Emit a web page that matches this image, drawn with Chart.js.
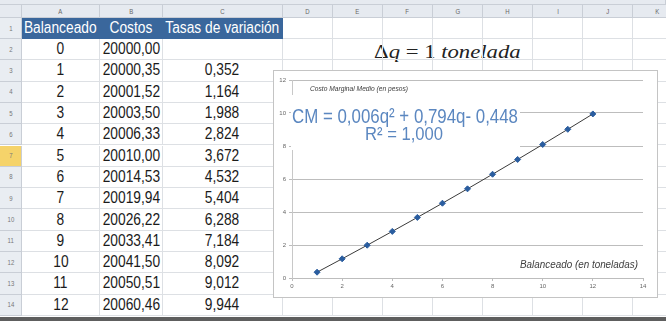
<!DOCTYPE html>
<html>
<head>
<meta charset="utf-8">
<script src="https://cdn.jsdelivr.net/npm/chart.js@4.4.0/dist/chart.umd.min.js"></script>
<style>
body { margin: 0; background: #fff; font-family: Arial, "Liberation Sans", sans-serif; }
#hoja { position: relative; width: 666px; height: 321px; overflow: hidden; background: #fff; }
.c { position: absolute; box-sizing: border-box; border-right: 1px solid #dde0e4; border-bottom: 1px solid #dde0e4;
     display: flex; align-items: center; justify-content: center; white-space: nowrap; overflow: visible; }
.c span { display: inline-block; transform: scaleX(0.86); }
.cab { background: #e6eaf0; color: #666; font-size: 7px; border-color: #c9ced6; }
.num { background: #e9edf2; color: #777; font-size: 7px; border-color: #c9ced6; }
.sel { background: #f5d36a; }
.tit { background: #3a679c; color: #fff; font-size: 16px; border-color: #3a679c; }
.val { color: #1b1b1b; font-size: 16px; }
#graf { position: absolute; left: 273px; top: 70px; width: 385px; height: 228px; box-sizing: border-box;
        border: 1px solid #c4c4c4; background: #fff; }
#delta { position: absolute; left: 367px; top: 41px; width: 160px; height: 22px; background: #fff;
         display: flex; align-items: center; justify-content: center;
         font-family: "Liberation Serif", "DejaVu Serif", serif; font-size: 19px; color: #222; }
#delta span { display: inline-block; white-space: nowrap; }
#pie { position: absolute; left: 0; top: 317px; width: 666px; height: 4px; background: #5e5e5e; }
</style>
</head>
<body>
<div id="hoja">
  <div id="delta"><span id="deltaTxt">Δ<i>q</i> = 1 <i>tonelada</i></span></div>
  <div id="graf"><canvas id="costoChart" width="383" height="226"></canvas></div>
  <div id="pie"></div>
</div>
<script>
// Datos de la hoja
const balanceado = [0, 1, 2, 3, 4, 5, 6, 7, 8, 9, 10, 11, 12];
const costos = [20000.00, 20000.35, 20001.52, 20003.50, 20006.33, 20010.00, 20014.53, 20019.94, 20026.22, 20033.41, 20041.50, 20050.51, 20060.46];
const tasas = [null, 0.352, 1.164, 1.988, 2.824, 3.672, 4.532, 5.404, 6.288, 7.184, 8.092, 9.012, 9.944];
const encabezados = ['Balanceado', 'Costos', 'Tasas de variación'];

// Ejes del grafico
const xTicks = [0, 2, 4, 6, 8, 10, 12, 14];
const yTicks = [0, 2, 4, 6, 8, 10, 12];
const ecuacion = 'CM = 0,006q² + 0,794q- 0,448';
const r2 = 'R² = 1,000';

// Rejilla de la hoja (posiciones en px)
const bordesCol = [0, 22, 100, 163, 283, 333, 383, 433, 483, 533, 583, 633, 683];
const letras = ['', 'A', 'B', 'C', 'D', 'E', 'F', 'G', 'H', 'I', 'J', 'K'];
const filaAlto = 21.3;

const hoja = document.getElementById('hoja');
const graf = document.getElementById('graf');

function celda(x0, x1, y0, y1, clase, texto) {
    const d = document.createElement('div');
    d.className = 'c ' + clase;
    d.style.left = x0 + 'px';
    d.style.width = (x1 - x0) + 'px';
    d.style.top = y0 + 'px';
    d.style.height = (y1 - y0) + 'px';
    if (texto !== undefined && texto !== '') {
        const s = document.createElement('span');
        s.textContent = texto;
        d.appendChild(s);
    }
    hoja.insertBefore(d, graf);
}

function fmt(v, dec) {
    return v.toFixed(dec).replace('.', ',');
}

// franja superior
celda(0, 666, 0, 5, 'cab', '');
// letras de columna
for (let i = 0; i < letras.length; i++) {
    celda(bordesCol[i], bordesCol[i + 1], 5, 18, 'cab', letras[i]);
}
// filas
const filas = [[18, 39]];
for (let r = 0; r < 13; r++) {
    filas.push([39 + r * filaAlto, 39 + (r + 1) * filaAlto]);
}
filas.forEach(function(f, r) {
    celda(0, 22, f[0], f[1], 'num' + (r === 6 ? ' sel' : ''), String(r + 1));
    for (let c = 1; c < letras.length; c++) {
        let clase = 'val';
        let texto = '';
        if (r === 0 && c <= 3) {
            clase = 'tit';
            texto = encabezados[c - 1];
        } else if (r > 0) {
            const k = r - 1;
            if (c === 1) texto = String(balanceado[k]);
            if (c === 2) texto = fmt(costos[k], 2);
            if (c === 3 && tasas[k] !== null) texto = fmt(tasas[k], 3);
        }
        celda(bordesCol[c], bordesCol[c + 1], f[0], f[1], clase, texto);
    }
});

// ajustar el ancho del titulo
const dt = document.getElementById('deltaTxt');
dt.style.transform = 'scaleX(' + (147 / dt.offsetWidth) + ')';

// puntos del grafico
const puntos = [];
for (let i = 1; i < balanceado.length; i++) {
    puntos.push({ x: balanceado[i], y: tasas[i] });
}

// etiquetas dentro del grafico
const etiquetas = {
    id: 'etiquetas',
    beforeDatasetsDraw(chart) {
        const ctx = chart.ctx;
        ctx.save();
        ctx.fillStyle = '#fff';
        ctx.fillRect(17, 24, 229, 55);
        ctx.textBaseline = 'middle';
        ctx.textAlign = 'left';
        ctx.fillStyle = '#404040';
        ctx.font = 'italic 8px Arial';
        ctx.fillText('Costo Marginal Medio (en pesos)', 36, 18, 98);
        ctx.font = 'italic 10px Arial';
        ctx.fillText('Balanceado (en toneladas)', 246, 194, 118);
        ctx.fillStyle = '#5b87c0';
        ctx.font = '20px Arial';
        ctx.fillText(ecuacion, 18, 46, 226);
        ctx.font = '19px Arial';
        ctx.fillText(r2, 91, 64, 78);
        ctx.restore();
    }
};

const ctx = document.getElementById('costoChart').getContext('2d');
new Chart(ctx, {
    type: 'scatter',
    data: {
        datasets: [{
            data: puntos,
            showLine: true,
            borderColor: '#3a3a3a',
            borderWidth: 1,
            pointStyle: 'rectRot',
            pointRadius: 3,
            pointBackgroundColor: '#2a5d9f',
            pointBorderColor: '#2a5d9f'
        }]
    },
    options: {
        responsive: false,
        animation: false,
        devicePixelRatio: 1,
        layout: { padding: { top: 9, right: 14, left: 0, bottom: 0 } },
        plugins: {
            legend: { display: false },
            tooltip: { enabled: false }
        },
        scales: {
            x: {
                type: 'linear',
                min: xTicks[0],
                max: xTicks[xTicks.length - 1],
                afterBuildTicks: function(s) { s.ticks = xTicks.map(v => ({ value: v })); },
                ticks: { font: { size: 6 }, color: '#666', padding: 2, maxRotation: 0 },
                grid: { drawOnChartArea: false, tickLength: 3, color: '#bdbdbd' },
                border: { color: '#bdbdbd' },
                afterFit: function(s) { s.height = 19; }
            },
            y: {
                min: yTicks[0],
                max: yTicks[yTicks.length - 1],
                afterBuildTicks: function(s) { s.ticks = yTicks.map(v => ({ value: v })); },
                ticks: { font: { size: 6 }, color: '#666', padding: 3 },
                grid: { color: '#bdbdbd', tickLength: 3 },
                border: { color: '#c8c8c8' },
                afterFit: function(s) { s.width = 18; }
            }
        }
    },
    plugins: [etiquetas]
});
</script>
</body>
</html>
